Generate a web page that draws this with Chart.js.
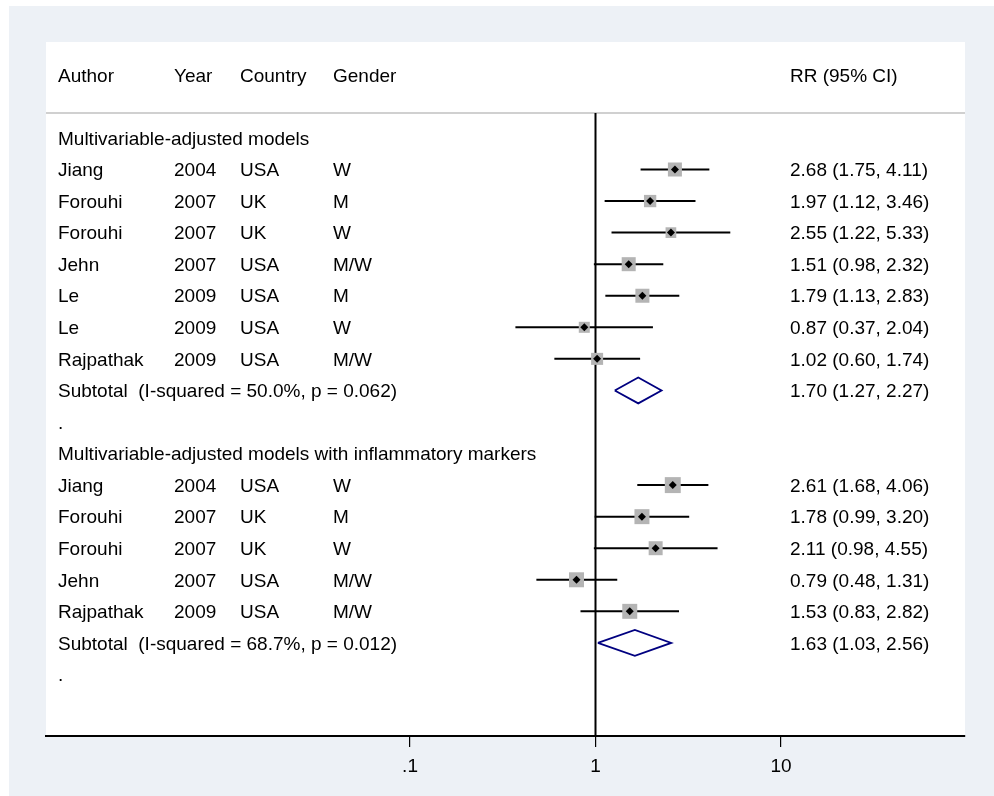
<!DOCTYPE html>
<html>
<head>
<meta charset="utf-8">
<script src="https://cdn.jsdelivr.net/npm/chart.js@4.4.0/dist/chart.umd.min.js"></script>
<style>
  html, body { margin: 0; padding: 0; background: #fff; }
  #wrap { width: 994px; height: 796px; }
</style>
</head>
<body>
<div id="wrap"><canvas id="forest"></canvas></div>
<script>
// study level data, two subgroups
const authors   = ["Jiang", "Forouhi", "Forouhi", "Jehn", "Le", "Le", "Rajpathak",
                   "Jiang", "Forouhi", "Forouhi", "Jehn", "Rajpathak"];
const years     = [2004, 2007, 2007, 2007, 2009, 2009, 2009, 2004, 2007, 2007, 2007, 2009];
const countries = ["USA", "UK", "UK", "USA", "USA", "USA", "USA", "USA", "UK", "UK", "USA", "USA"];
const genders   = ["W", "M", "W", "M/W", "M", "W", "M/W", "W", "M", "W", "M/W", "M/W"];
const groupOf   = [0, 0, 0, 0, 0, 0, 0, 1, 1, 1, 1, 1];
const rr        = [2.68, 1.97, 2.55, 1.51, 1.79, 0.87, 1.02, 2.61, 1.78, 2.11, 0.79, 1.53];
const lower     = [1.75, 1.12, 1.22, 0.98, 1.13, 0.37, 0.60, 1.68, 0.99, 0.98, 0.48, 0.83];
const upper     = [4.11, 3.46, 5.33, 2.32, 2.83, 2.04, 1.74, 4.06, 3.20, 4.55, 1.31, 2.82];
const weights   = [17.5, 13.5, 10.2, 17.5, 17.5, 10.8, 12.9, 22.7, 20.0, 17.4, 20.0, 20.0];

// subgroup summaries
const groupNames = ["Multivariable-adjusted models",
                    "Multivariable-adjusted models with inflammatory markers"];
const subRR    = [1.70, 1.63];
const subLower = [1.27, 1.03];
const subUpper = [2.27, 2.56];
const subI2    = ["50.0%", "68.7%"];
const subP     = ["0.062", "0.012"];

// axis
const tickValues = [0.1, 1, 10];
const tickLabels = [".1", "1", "10"];
const xMin = 0.00109, xMax = 98.2;

const FONT_FAMILY = "'Liberation Sans', Arial, sans-serif";
const FONT = "19px " + FONT_FAMILY;

// build row layout: heading, studies, subtotal, "." spacer
const rowsText = [];
const studyRow = [];
const subRow = [];
let r = 0;
groupNames.forEach((g, gi) => {
  rowsText.push({ row: r, kind: "heading", text: g });
  r++;
  groupOf.forEach((grp, i) => {
    if (grp === gi) { studyRow[i] = r; r++; }
  });
  subRow[gi] = r; r++;
  rowsText.push({ row: r, kind: "dot" }); r++;
});
const headerRow = -2;
const sepRow = -0.79;
const yMin = -3.04, yMax = 18.95;

const fmt = (a, b, c) => a.toFixed(2) + " (" + b.toFixed(2) + ", " + c.toFixed(2) + ")";

const datasets = [];

// reference line at RR = 1
datasets.push({
  data: [{ x: 1, y: sepRow }, { x: 1, y: yMax }],
  showLine: true, borderColor: "#000", borderWidth: 2, pointRadius: 0, order: 5
});
// header separator
datasets.push({
  data: [{ x: xMin, y: sepRow }, { x: xMax, y: sepRow }],
  showLine: true, borderColor: "#c0c0c0", borderWidth: 1.5, pointRadius: 0, order: 5
});
// confidence intervals
rr.forEach((v, i) => {
  datasets.push({
    data: [{ x: lower[i], y: studyRow[i] }, { x: upper[i], y: studyRow[i] }],
    showLine: true, borderColor: "#000", borderWidth: 2, pointRadius: 0, order: 3
  });
});
// weight boxes
datasets.push({
  data: rr.map((v, i) => ({ x: v, y: studyRow[i] })),
  pointStyle: "rect",
  pointRadius: weights.map(w => 3.35 * Math.sqrt(w) / Math.SQRT2),
  backgroundColor: "#b4b4b4", borderWidth: 0, order: 2
});
// point estimates
datasets.push({
  data: rr.map((v, i) => ({ x: v, y: studyRow[i] })),
  pointStyle: "rectRot", pointRadius: 4,
  backgroundColor: "#000", borderWidth: 0, order: 0
});
// subtotal diamonds
subRR.forEach((v, gi) => {
  const y = subRow[gi], h = 0.41;
  datasets.push({
    data: [
      { x: subLower[gi], y: y }, { x: v, y: y - h }, { x: subUpper[gi], y: y },
      { x: v, y: y + h }, { x: subLower[gi], y: y }
    ],
    showLine: true, borderColor: "#000080", borderWidth: 1.8, pointRadius: 0,
    fill: false, tension: 0, order: 1
  });
});

const panelPlugin = {
  id: "panel",
  beforeDraw(chart) {
    const { ctx, chartArea: a } = chart;
    ctx.save();
    ctx.fillStyle = "#fff";
    ctx.fillRect(0, 0, chart.width, chart.height);
    ctx.fillStyle = "#edf1f6";
    ctx.fillRect(9, 6, chart.width - 9, chart.height - 6);
    ctx.fillStyle = "#fff";
    ctx.fillRect(a.left, a.top, a.right - a.left, a.bottom - a.top);
    ctx.restore();
  },
  afterDraw(chart) {
    const { ctx } = chart;
    const ys = chart.scales.y;
    const colX = [58, 174, 240, 333];
    const rrX = 790;
    ctx.save();
    ctx.font = FONT;
    ctx.fillStyle = "#000";
    ctx.textBaseline = "middle";
    const put = (t, x, row) => ctx.fillText(t, x, ys.getPixelForValue(row) + 1.5);

    ["Author", "Year", "Country", "Gender"].forEach((t, k) => put(t, colX[k], headerRow));
    put("RR (95% CI)", rrX, headerRow);

    rowsText.forEach(o => {
      if (o.kind === "heading") put(o.text, colX[0], o.row);
      else put(".", colX[0], o.row);
    });
    rr.forEach((v, i) => {
      const row = studyRow[i];
      put(authors[i], colX[0], row);
      put(String(years[i]), colX[1], row);
      put(countries[i], colX[2], row);
      put(genders[i], colX[3], row);
      put(fmt(v, lower[i], upper[i]), rrX, row);
    });
    subRR.forEach((v, gi) => {
      put("Subtotal  (I-squared = " + subI2[gi] + ", p = " + subP[gi] + ")", colX[0], subRow[gi]);
      put(fmt(v, subLower[gi], subUpper[gi]), rrX, subRow[gi]);
    });
    ctx.restore();
  }
};

new Chart(document.getElementById("forest"), {
  type: "scatter",
  data: { datasets },
  options: {
    responsive: true,
    maintainAspectRatio: false,
    animation: false,
    layout: { padding: { left: 46, right: 29, top: 42, bottom: 10 } },
    plugins: { legend: { display: false }, tooltip: { enabled: false } },
    scales: {
      x: {
        type: "logarithmic",
        min: xMin, max: xMax,
        afterBuildTicks: s => { s.ticks = tickValues.map(v => ({ value: v })); },
        afterFit: s => { s.height = 50; },
        border: { display: true, color: "#000", width: 2 },
        grid: { drawOnChartArea: false, drawTicks: true, tickLength: 11, color: "#000", lineWidth: 1.2 },
        ticks: {
          color: "#000", padding: 8, maxRotation: 0, autoSkip: false,
          font: { family: FONT_FAMILY, size: 19 },
          callback: (v, idx) => tickLabels[idx]
        }
      },
      y: {
        type: "linear", reverse: true, min: yMin, max: yMax, display: false
      }
    }
  },
  plugins: [panelPlugin]
});
</script>
</body>
</html>
